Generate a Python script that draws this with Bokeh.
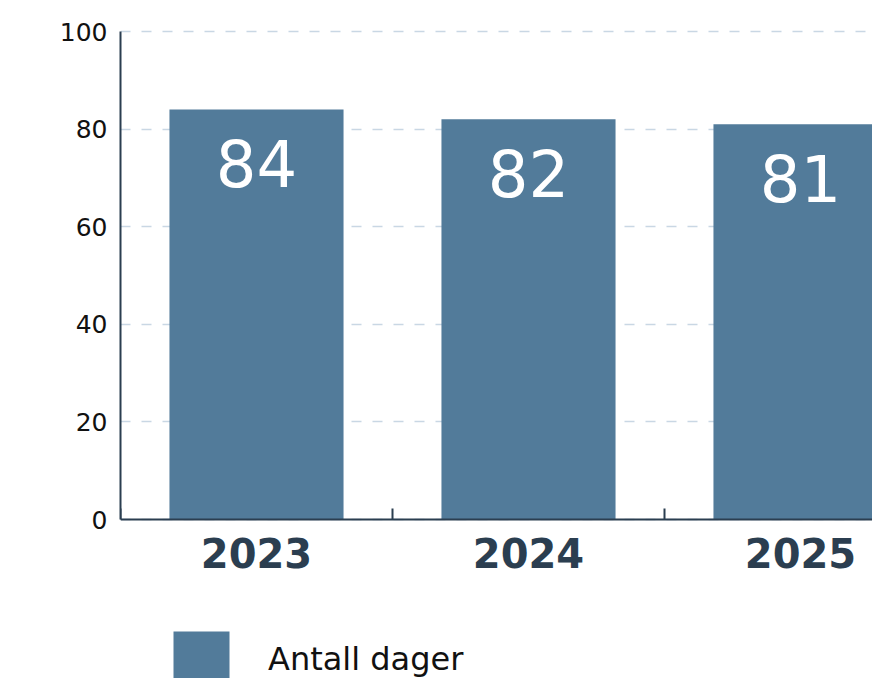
from bokeh.plotting import figure
from bokeh.models import (Range1d, FixedTicker, LabelSet, ColumnDataSource,
                          Legend, LegendItem, CustomJSTickFormatter)
from bokeh.core.properties import value
from bokeh.embed import file_html
from bokeh.resources import INLINE

# ---- data ----
years = ["2023", "2024", "2025"]
values = [84, 82, 81]
y_ticks = [0, 20, 40, 60, 80, 100]
series_name = "Antall dager"

BAR = "#527b9a"
DARK = "#2b3e50"
FONT = "DejaVu Sans"

xs = [i + 0.5 for i in range(len(years))]
src = ColumnDataSource(dict(x=xs, top=values, lab=[str(v) for v in values]))

PX_PER_UNIT = 4.88
TOP_PAD = 3  # px of frame above the 100 line so the top grid line is not clipped
p = figure(width=872, height=678, output_backend="svg", toolbar_location=None,
           x_range=Range1d(0, 752 / 272),
           y_range=Range1d(-159 / PX_PER_UNIT, 100 + TOP_PAD / PX_PER_UNIT),
           min_border_left=120, min_border_right=0, min_border_top=31 - TOP_PAD,
           min_border_bottom=0)
p.outline_line_color = None
p.background_fill_color = "white"
p.border_fill_color = "white"

r = p.vbar(x="x", top="top", bottom=0, width=0.64, source=src, color=BAR,
           line_color=None)

# y axis
p.yaxis.ticker = FixedTicker(ticks=y_ticks)
p.yaxis.bounds = (0, 100)
p.yaxis.major_tick_line_color = None
p.yaxis.major_tick_out = 0
p.yaxis.minor_tick_line_color = None
p.yaxis.axis_line_color = DARK
p.yaxis.axis_line_width = 2
p.yaxis.major_label_text_font = FONT
p.yaxis.major_label_text_font_size = "25px"
p.yaxis.major_label_text_color = "#111111"
p.yaxis.major_label_standoff = 13

# x axis, fixed at y = 0
p.xaxis.fixed_location = 0
p.xaxis.ticker = FixedTicker(ticks=xs, minor_ticks=list(range(len(years) + 1)))
p.xaxis.formatter = CustomJSTickFormatter(args=dict(labels=years),
                                          code="return labels[Math.floor(tick)];")
p.xaxis.major_tick_line_color = None
p.xaxis.major_tick_out = 0
p.xaxis.major_tick_in = 0
p.xaxis.minor_tick_line_color = DARK
p.xaxis.minor_tick_line_width = 2
p.xaxis.minor_tick_in = 11
p.xaxis.minor_tick_out = 0
p.xaxis.axis_line_color = DARK
p.xaxis.axis_line_width = 2
p.xaxis.major_label_text_font = FONT
p.xaxis.major_label_text_font_style = "bold"
p.xaxis.major_label_text_font_size = "40px"
p.xaxis.major_label_text_color = DARK
p.xaxis.major_label_standoff = 18

# grid
p.xgrid.grid_line_color = None
p.ygrid.ticker = FixedTicker(ticks=y_ticks)
p.ygrid.grid_line_color = "#c9d7e4"
p.ygrid.grid_line_dash = "10 11"
p.ygrid.grid_line_width = 1.5

# value labels inside bars
labels = LabelSet(x="x", y="top", text="lab", source=src, y_offset=-54,
                  text_align="center", text_baseline="middle",
                  text_color="white", text_font=value(FONT),
                  text_font_size=value("64px"))
p.add_layout(labels)

legend = Legend(items=[LegendItem(label=series_name, renderers=[r])],
                location=(46, -16), glyph_width=70, glyph_height=70,
                label_standoff=32, label_text_font=FONT, label_text_font_size="32px",
                label_text_color="#111111", padding=0, margin=0, spacing=0,
                border_line_color=None, background_fill_alpha=0)
p.add_layout(legend, "center")

open("out.html", "w").write(file_html(p, INLINE))
